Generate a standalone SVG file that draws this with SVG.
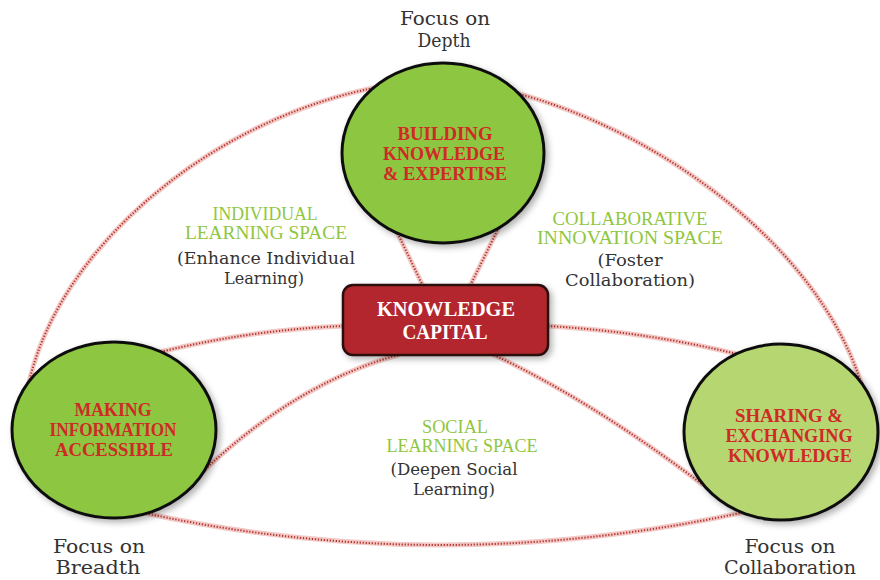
<svg xmlns="http://www.w3.org/2000/svg" xmlns:xlink="http://www.w3.org/1999/xlink" width="880" height="580" viewBox="0 0 880 580">
<style>
  .band { fill: none; stroke: #f1c9c6; stroke-width: 5; stroke-linecap: round; }
  .dots { fill: none; stroke: #b8322c; stroke-width: 2; stroke-dasharray: 1.3 1.7; }
  .node-g { fill: #8dc63f; stroke: #111; stroke-width: 3; }
  .node-l { fill: #b6d671; stroke: #111; stroke-width: 3; }
  .cap { font-family: "Liberation Serif", "DejaVu Serif", serif; font-weight: bold; fill: #cf2a27; text-anchor: middle; }
  .kc { font-family: "Liberation Serif", "DejaVu Serif", serif; font-weight: bold; fill: #ffffff; text-anchor: middle; font-size: 22px; }
  .space { font-family: "Liberation Serif", serif; fill: #8fc641; text-anchor: middle; font-size: 18.5px; }
  .sub { font-family: "DejaVu Serif", "Liberation Serif", serif; fill: #333; text-anchor: middle; font-size: 16px; }
  .focus { font-family: "DejaVu Serif", "Liberation Serif", serif; fill: #333; text-anchor: middle; font-size: 18px; }
</style>
<defs>
  <filter id="sh" x="-20%" y="-20%" width="140%" height="140%">
    <feDropShadow dx="3" dy="3" stdDeviation="3" flood-color="#000" flood-opacity="0.3"/>
  </filter>
  <path id="c-arc-l" d="M 24 412 C 42 240 250 85 443 80"/>
  <path id="c-arc-r" d="M 443 80 C 600 92 822 225 866 400"/>
  <path id="c-bottom" d="M 140 512 Q 440 578 745 512"/>
  <path id="c-left" d="M 343 326 Q 250 330 160 352"/>
  <path id="c-right" d="M 548 326 Q 650 332 745 356"/>
  <path id="c-top-l" d="M 395 228 L 423 286"/>
  <path id="c-top-r" d="M 500 225 L 470 286"/>
  <path id="c-bl" d="M 398 355 Q 290 385 192 482"/>
  <path id="c-br" d="M 494 355 Q 590 400 702 484"/>
</defs>
<rect width="880" height="580" fill="#ffffff"/>

<g id="connectors">
  <g class="band">
    <use xlink:href="#c-arc-l"/><use xlink:href="#c-arc-r"/><use xlink:href="#c-bottom"/>
    <use xlink:href="#c-left"/><use xlink:href="#c-right"/><use xlink:href="#c-top-l"/>
    <use xlink:href="#c-top-r"/><use xlink:href="#c-bl"/><use xlink:href="#c-br"/>
  </g>
  <g class="dots">
    <use xlink:href="#c-arc-l"/><use xlink:href="#c-arc-r"/><use xlink:href="#c-bottom"/>
    <use xlink:href="#c-left"/><use xlink:href="#c-right"/><use xlink:href="#c-top-l"/>
    <use xlink:href="#c-top-r"/><use xlink:href="#c-bl"/><use xlink:href="#c-br"/>
  </g>
</g>

<g id="labels">
  <text class="focus" x="445" y="25" textLength="90" lengthAdjust="spacingAndGlyphs">Focus on</text>
  <text class="focus" x="444" y="47" textLength="53" lengthAdjust="spacingAndGlyphs">Depth</text>
  <text class="focus" x="99" y="553" textLength="92" lengthAdjust="spacingAndGlyphs">Focus on</text>
  <text class="focus" x="98" y="574" textLength="85" lengthAdjust="spacingAndGlyphs">Breadth</text>
  <text class="focus" x="790" y="553" textLength="91" lengthAdjust="spacingAndGlyphs">Focus on</text>
  <text class="focus" x="790" y="574" textLength="132" lengthAdjust="spacingAndGlyphs">Collaboration</text>

  <text class="space" x="265" y="220" textLength="105" lengthAdjust="spacingAndGlyphs">INDIVIDUAL</text>
  <text class="space" x="266" y="239" textLength="162" lengthAdjust="spacingAndGlyphs">LEARNING SPACE</text>
  <text class="sub" x="266" y="264" textLength="178" lengthAdjust="spacingAndGlyphs">(Enhance Individual</text>
  <text class="sub" x="264" y="284" textLength="80" lengthAdjust="spacingAndGlyphs">Learning)</text>

  <text class="space" x="630" y="225" textLength="155" lengthAdjust="spacingAndGlyphs">COLLABORATIVE</text>
  <text class="space" x="630" y="244" textLength="186" lengthAdjust="spacingAndGlyphs">INNOVATION SPACE</text>
  <text class="sub" x="630" y="266" textLength="65" lengthAdjust="spacingAndGlyphs">(Foster</text>
  <text class="sub" x="630" y="286" textLength="130" lengthAdjust="spacingAndGlyphs">Collaboration)</text>

  <text class="space" x="455" y="433" textLength="66" lengthAdjust="spacingAndGlyphs">SOCIAL</text>
  <text class="space" x="462" y="452" textLength="151" lengthAdjust="spacingAndGlyphs">LEARNING SPACE</text>
  <text class="sub" x="454" y="475" textLength="127" lengthAdjust="spacingAndGlyphs">(Deepen Social</text>
  <text class="sub" x="454" y="495" textLength="82" lengthAdjust="spacingAndGlyphs">Learning)</text>
</g>

<g id="node-building">
  <ellipse class="node-g" cx="443" cy="153" rx="101" ry="90" filter="url(#sh)"/>
  <text class="cap" font-size="19.5" x="445" y="140" textLength="95" lengthAdjust="spacingAndGlyphs">BUILDING</text>
  <text class="cap" font-size="19.5" x="444" y="160" textLength="122" lengthAdjust="spacingAndGlyphs">KNOWLEDGE</text>
  <text class="cap" font-size="19.5" x="445" y="180" textLength="124" lengthAdjust="spacingAndGlyphs">&amp; EXPERTISE</text>
</g>

<g id="node-making">
  <ellipse class="node-g" cx="114" cy="430" rx="102" ry="88" filter="url(#sh)"/>
  <text class="cap" font-size="19" x="113" y="416" textLength="77" lengthAdjust="spacingAndGlyphs">MAKING</text>
  <text class="cap" font-size="19" x="113" y="436" textLength="127" lengthAdjust="spacingAndGlyphs">INFORMATION</text>
  <text class="cap" font-size="19" x="114" y="456" textLength="118" lengthAdjust="spacingAndGlyphs">ACCESSIBLE</text>
</g>

<g id="node-sharing">
  <ellipse class="node-l" cx="781" cy="432" rx="97" ry="88" filter="url(#sh)"/>
  <text class="cap" font-size="19" x="789" y="422" textLength="108" lengthAdjust="spacingAndGlyphs">SHARING &amp;</text>
  <text class="cap" font-size="19" x="789" y="442" textLength="127" lengthAdjust="spacingAndGlyphs">EXCHANGING</text>
  <text class="cap" font-size="19" x="790" y="462" textLength="124" lengthAdjust="spacingAndGlyphs">KNOWLEDGE</text>
</g>

<g id="node-capital">
  <rect x="343" y="285" width="205" height="70" rx="10" ry="10" fill="#b3282d" stroke="#2a0a0a" stroke-width="2.5" filter="url(#sh)"/>
  <text class="kc" x="446" y="316" textLength="138" lengthAdjust="spacingAndGlyphs">KNOWLEDGE</text>
  <text class="kc" x="445" y="339" textLength="85" lengthAdjust="spacingAndGlyphs">CAPITAL</text>
</g>
</svg>
